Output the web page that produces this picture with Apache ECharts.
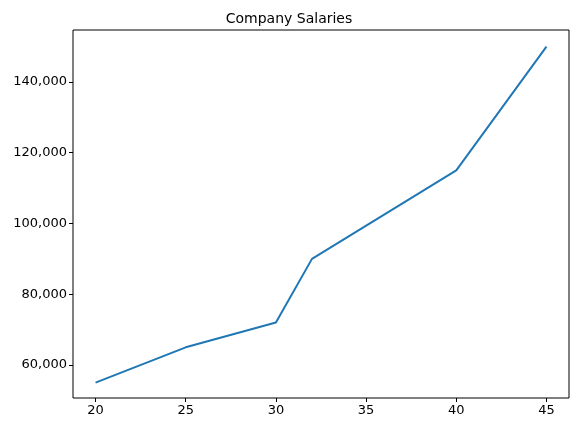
<!DOCTYPE html>
<html><head><meta charset="utf-8">
<script src="https://cdn.jsdelivr.net/npm/echarts@6/dist/echarts.min.js"></script>
<style>html,body{margin:0;padding:0;background:#fff}#c{width:578px;height:433px}</style>
</head><body><div id="c"></div>
<script>
const ages = [20, 25, 30, 32, 40, 45];
const salaries = [55000, 65000, 72000, 90000, 115000, 150000];
const xTicks = [20, 25, 30, 35, 40, 45];
const yTicks = [60000, 80000, 100000, 120000, 140000];
const font = 'DejaVu Sans';
const chart = echarts.init(document.getElementById('c'));
chart.setOption({
  animation: false,
  title: {text: 'Company Salaries', left: 'center', top: 7,
    textStyle: {fontFamily: font, fontSize: 14, fontWeight: 'normal', color: '#000'}},
  grid: {left: 73, right: 9, top: 30, bottom: 35, show: true, borderColor: '#000', borderWidth: 1},
  xAxis: {type: 'value', min: 18.75, max: 46.25,
    axisLine: {show: false}, splitLine: {show: false},
    axisTick: {show: true, length: 4, lineStyle: {color: '#000'}, customValues: xTicks},
    axisLabel: {customValues: xTicks, color: '#000', fontFamily: font, fontSize: 13, margin: 6}},
  yAxis: {type: 'value', min: 50670, max: 154700,
    axisLine: {show: false}, splitLine: {show: false},
    axisTick: {show: true, length: 4, lineStyle: {color: '#000'}, customValues: yTicks},
    axisLabel: {customValues: yTicks, color: '#000', fontFamily: font, fontSize: 13, margin: 6}},
  series: [{type: 'line', data: ages.map((a, i) => [a, salaries[i]]), symbol: 'none',
    lineStyle: {color: '#1f77b4', width: 2}}]
});
</script></body></html>
